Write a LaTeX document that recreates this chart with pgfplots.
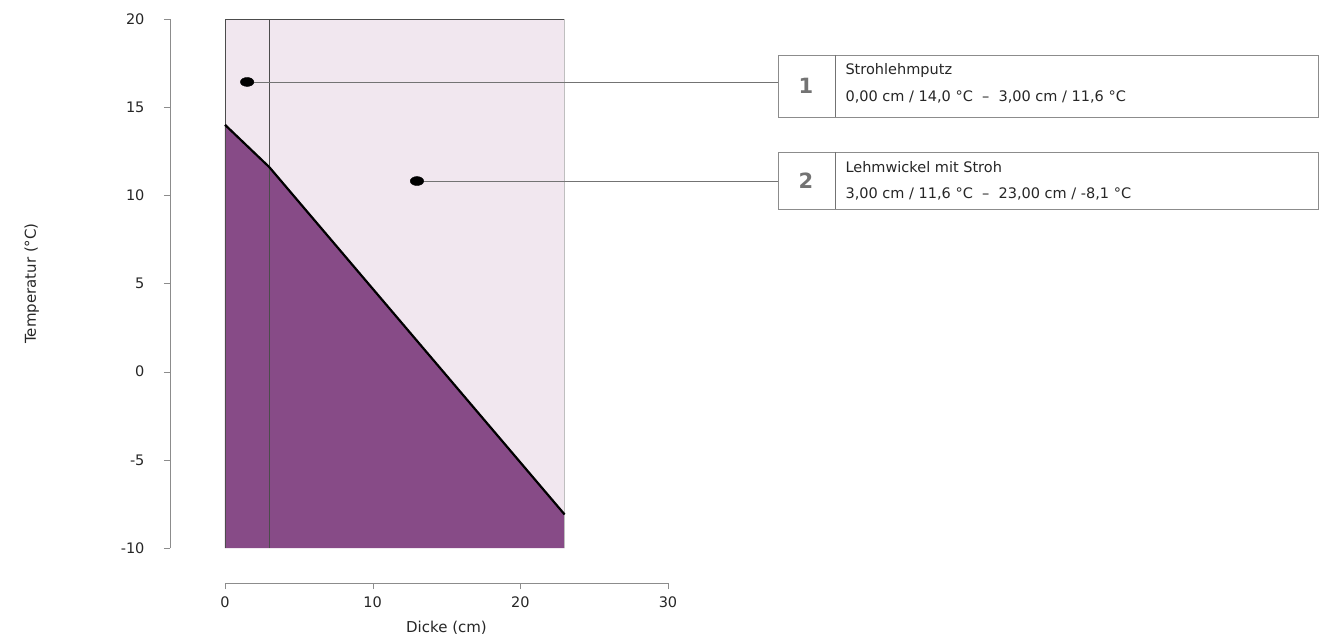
\documentclass[border=0pt]{standalone}
\usepackage{pgfplots}
\pgfplotsset{compat=1.18}
\usepackage{fontspec}
\setmainfont{DejaVu Sans}
\definecolor{layerpink}{RGB}{241,231,239}
\definecolor{darkviolet}{RGB}{135,75,135}
\definecolor{axgray}{RGB}{140,140,140}
\begin{document}
\begin{tikzpicture}
\begin{axis}[
 scale only axis, width=443pt, height=529pt,
 xmin=0, xmax=30, ymin=-10, ymax=20,
 axis x line*=bottom, axis y line*=left,
 axis x line shift=35pt, axis y line shift=55pt,
 xtick={0,10,20,30}, ytick={-10,-5,...,20},
 tick align=outside, major tick length=6pt,
 axis line style={axgray}, tick style={axgray},
 /pgf/number format/assume math mode=true,
 ticklabel style={font=\fontsize{14.5}{16}\selectfont, text=black!85},
 yticklabel style={xshift=-16pt},
 xticklabel style={yshift=-4pt},
 xlabel={Dicke (cm)}, ylabel={Temperatur (°C)},
 label style={font=\fontsize{15}{17}\selectfont, text=black!85},
 xlabel style={at={(axis description cs:0.5,-0.151)}, anchor=center},
 ylabel style={at={(axis description cs:-0.436,0.5)}, anchor=center},
 clip=false,
]
\addplot[draw=none, fill=layerpink] coordinates {(0,-10) (0,20) (23,20) (23,-10)} -- cycle;
\addplot[draw=none, fill=darkviolet] coordinates {(0,-10) (0,14) (3,11.6) (23,-8.1) (23,-10)} -- cycle;
\addplot[black!70, line width=0.8pt] coordinates {(0,-10) (0,20) (23,20)};
\addplot[black!70, line width=0.8pt] coordinates {(3,-10) (3,20)};
\addplot[black!25, line width=0.8pt] coordinates {(23,-10) (23,20)};
\addplot[black, line width=2.2pt] coordinates {(0,14) (3,11.6) (23,-8.1)};
\addplot[black!55, line width=0.7pt] coordinates {(1.5,16.43) (37.45,16.43)};
\addplot[black!55, line width=0.7pt] coordinates {(13,10.81) (37.45,10.81)};
\addplot[only marks, mark=*, mark size=4.5pt, mark options={xscale=1.5, fill=black, draw=black}] coordinates {(1.5,16.43) (13,10.81)};
\path (axis cs:0,-10) coordinate (O);
\end{axis}
\begin{scope}[shift={(O)}, xshift=-225pt, yshift=548pt, x=1pt, y=-1pt]
 \draw[black!45, fill=white, line width=0.8pt] (778,55) rectangle (1318,117);
 \draw[black!55, line width=0.8pt] (835,55) -- (835,117);
 \node[font=\fontsize{21}{23}\selectfont\bfseries, text=black!55] at (806,86) {1};
 \node[anchor=west, font=\fontsize{14.5}{16}\selectfont, text=black!85] at (842,71) {Strohlehmputz};
 \node[anchor=west, font=\fontsize{14.5}{16}\selectfont, text=black!85] at (842,97) {0,00 cm / 14,0 °C \ – \ 3,00 cm / 11,6 °C};
 \draw[black!45, fill=white, line width=0.8pt] (778,152) rectangle (1318,209);
 \draw[black!55, line width=0.8pt] (835,152) -- (835,209);
 \node[font=\fontsize{21}{23}\selectfont\bfseries, text=black!55] at (806,181) {2};
 \node[anchor=west, font=\fontsize{14.5}{16}\selectfont, text=black!85] at (842,167) {Lehmwickel mit Stroh};
 \node[anchor=west, font=\fontsize{14.5}{16}\selectfont, text=black!85] at (842,194) {3,00 cm / 11,6 °C \ – \ 23,00 cm / -8,1 °C};
 \pgfresetboundingbox
 \path[use as bounding box] (0,0) rectangle (1325,642);
\end{scope}
\end{tikzpicture}
\end{document}
